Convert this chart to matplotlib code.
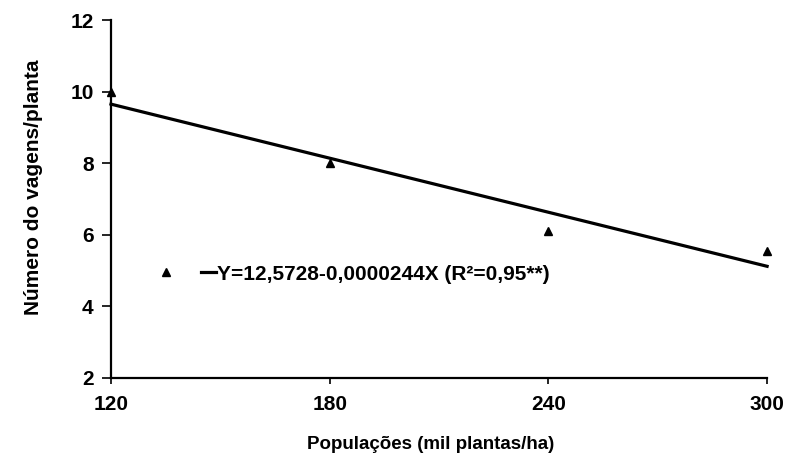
import matplotlib.pyplot as plt
from matplotlib.lines import Line2D

plt.rcParams['font.family'] = ['Liberation Sans', 'DejaVu Sans']
plt.rcParams['font.weight'] = 'bold'

# observed means
populacoes = [120, 180, 240, 300]
vagens = [9.98, 8.0, 6.1, 5.55]

# fitted line endpoints
fit_x = [120, 300]
fit_y = [9.65, 5.12]

xticks = [120, 180, 240, 300]
yticks = [2, 4, 6, 8, 10, 12]
eq_label = 'Y=12,5728-0,0000244X (R²=0,95**)'

fig = plt.figure(figsize=(7.9, 4.58), dpi=100)
ax = fig.add_axes([0.1405, 0.1747, 0.8305, 0.7816])

ax.plot(populacoes, vagens, '^', color='black', markersize=6, clip_on=False)
ax.plot(fit_x, fit_y, '-', color='black', linewidth=2.3, clip_on=False)

ax.set_xlim(120, 300)
ax.set_ylim(2, 12)
ax.set_xticks(xticks)
ax.set_yticks(yticks)
ax.tick_params(axis='both', labelsize=15, width=1.2, length=6.5, direction='out')
ax.tick_params(axis='x', pad=8, length=4)
ax.tick_params(axis='y', pad=6)
for lab in ax.get_xticklabels() + ax.get_yticklabels():
    lab.set_fontweight('bold')

for s in ['top', 'right']:
    ax.spines[s].set_visible(False)
for s in ['left', 'bottom']:
    ax.spines[s].set_linewidth(1.6)

ax.set_xlabel('Populações (mil plantas/ha)', fontsize=13.5, fontweight='bold', labelpad=16)
ax.set_ylabel('Número do vagens/planta', fontsize=15, fontweight='bold')
ax.yaxis.set_label_coords(-0.104, 0.534)
ax.xaxis.label.set_x(0.487)

handles = [
    Line2D([], [], marker='^', color='black', linestyle='none', markersize=6),
    Line2D([], [], color='black', linewidth=2.3),
]
ax.legend(handles, ['', eq_label], ncol=2, frameon=False,
          handlelength=0.7, handletextpad=0.05, columnspacing=1.3,
          borderaxespad=0, borderpad=0,
          loc='center left', bbox_to_anchor=(0.072, 0.29),
          prop={'weight': 'bold', 'size': 15})

fig.savefig('out.png', dpi=100)
